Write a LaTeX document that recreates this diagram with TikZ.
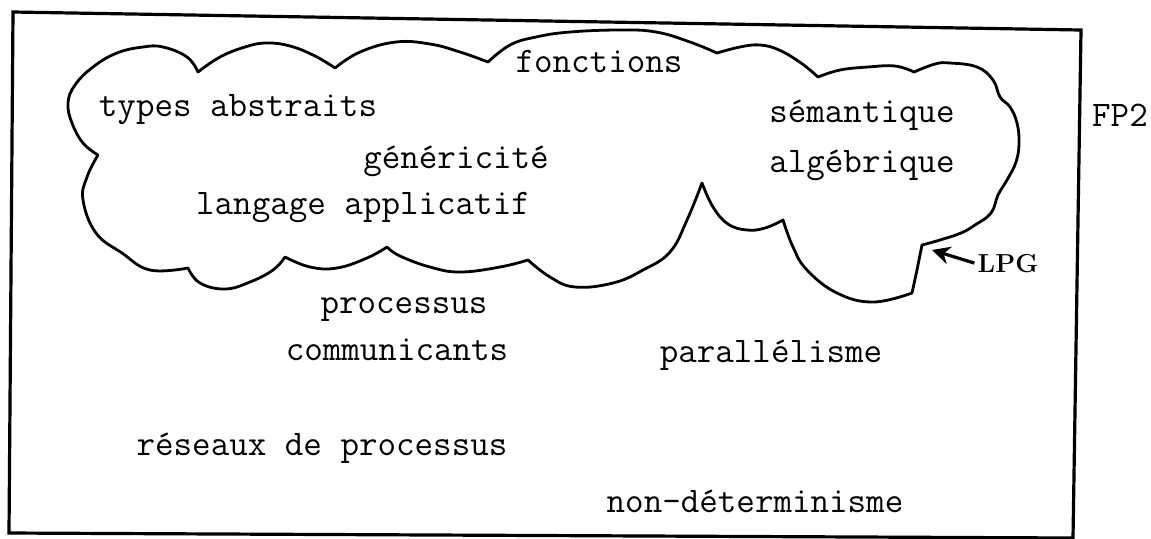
\documentclass[tikz,border=0pt]{standalone}
\usepackage{fontspec}
\usetikzlibrary{arrows.meta}
\tikzset{
	cloudline/.style={line width=1.4pt,line join=round},
	frameline/.style={line width=1.6pt,line join=miter},
	word/.style={inner sep=0pt,anchor=base,font=\fontsize{18}{20}\selectfont\ttfamily},
	tag/.style={inner sep=0pt,anchor=base,font=\fontsize{13}{15}\selectfont\rmfamily\bfseries}
}
\begin{document}
\begin{tikzpicture}[x=0.5pt,y=-0.5pt]
		\useasboundingbox (0,0) rectangle (1151,538);
		\draw[frameline] (13,12)--(1081,30)--(1073,538)--(9,533)--cycle;
		\draw[cloudline] plot[smooth,tension=0.7] coordinates {(98,155) (83,143) (72,123) (68,103) (75,85) (93,67) (117,53) (143,47) (163,47) (187,57) (198,72)}
			-- plot[smooth,tension=0.7] coordinates {(198,72) (220,57) (245,47) (266,43) (290,46) (315,56) (335,68)}
			-- plot[smooth,tension=0.7] coordinates {(335,68) (360,52) (396,42) (430,44) (460,52) (488,62)}
			-- plot[smooth,tension=0.7] coordinates {(488,62) (510,45) (536,37) (570,32) (620,30) (656,32) (690,42) (717,53)}
			-- plot[smooth,tension=0.7] coordinates {(717,53) (740,47) (760,45) (779,50) (801,63) (818,77)}
			-- plot[smooth,tension=0.7] coordinates {(818,77) (840,70) (868,67) (895,66) (914,72)}
			-- plot[smooth,tension=0.7] coordinates {(914,72) (935,64) (950,63) (977,67) (993,80) (1000,97) (1010,107) (1017,123) (1019,143) (1016,162) (1007,180) (998,195) (991,213) (975,225) (961,233) (940,240) (922,245)}
			-- (917,270) -- (912,293)
			-- plot[smooth,tension=0.7] coordinates {(912,293) (873,302) (837,293) (807,270) (793,247) (783,220)}
			-- plot[smooth,tension=0.7] coordinates {(783,220) (765,228) (747,230) (728,224) (713,207) (702,183)}
			-- plot[smooth,tension=0.7] coordinates {(702,183) (687,220) (670,252) (643,270) (613,283) (575,287) (550,277) (528,260)}
			-- plot[smooth,tension=0.7] coordinates {(528,260) (500,267) (460,272) (430,267) (400,256) (387,247)}
			-- plot[smooth,tension=0.7] coordinates {(387,247) (367,258) (337,268) (310,267) (285,257)}
			-- plot[smooth,tension=0.7] coordinates {(285,257) (273,270) (250,282) (225,289) (200,283) (188,268)}
			-- plot[smooth,tension=0.7] coordinates {(188,268) (150,270) (122,253) (96,233) (83,200) (87,177) (98,155)} -- cycle;
		\node[word] (fonctions) at (599,72) {fonctions};
		\node[word] (types) at (238,116) {types abstraits};
		\node[word] (semantique) at (862,122) {sémantique};
		\node[word] (genericite) at (456,168) {généricité};
		\node[word] (algebrique) at (862,172) {algébrique};
		\node[word] (langage) at (363,214) {langage applicatif};
		\node[word] (processus) at (404,313) {processus};
		\node[word] (communicants) at (397,360) {communicants};
		\node[word] (parallelisme) at (771,362) {parallélisme};
		\node[word] (reseaux) at (322,455) {réseaux de processus};
		\node[word] (nondet) at (755,512) {non-déterminisme};
		\node[word] (fp2) at (1120,126) {FP2};
		\node[tag] (lpg) at (1008,272) {LPG};
		\coordinate (lpgtip) at (932,250);
		\draw[line width=1.6pt,-{Stealth[length=9pt,width=9pt]}] (lpg.west) ++(-3,0) -- (lpgtip);
\end{tikzpicture}
\end{document}
